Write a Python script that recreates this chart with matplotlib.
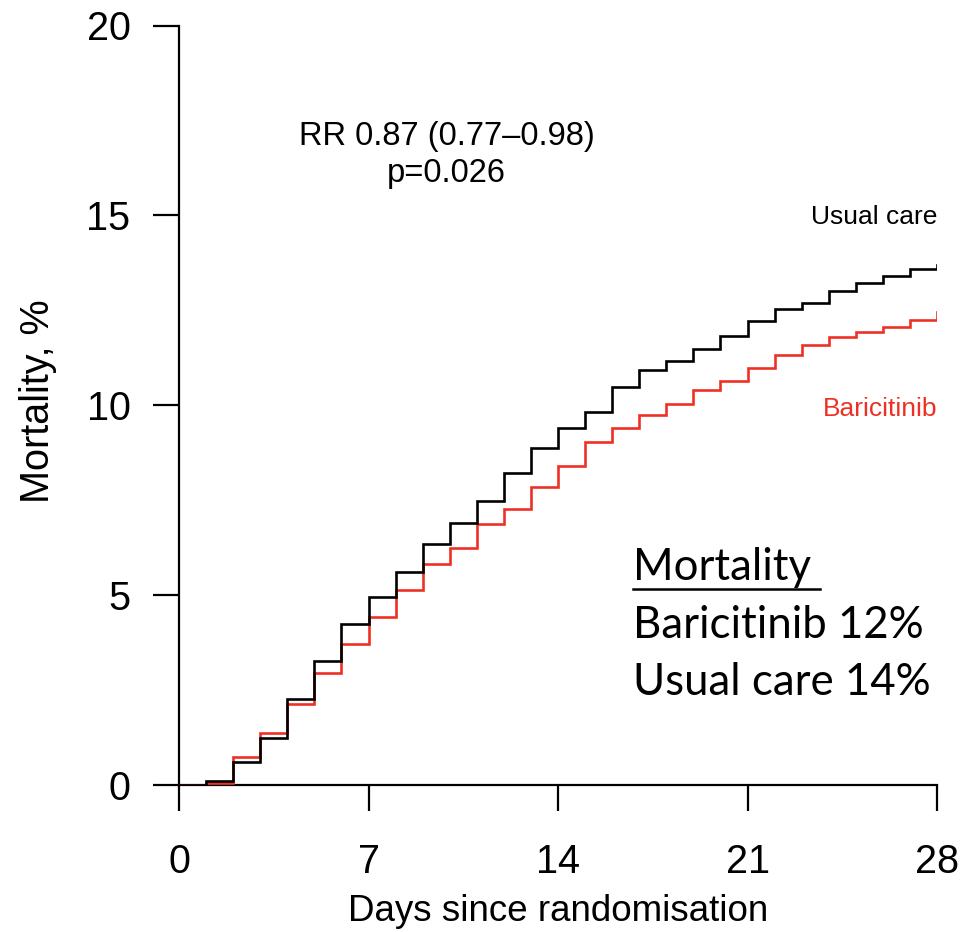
import matplotlib
matplotlib.use("Agg")
import matplotlib.pyplot as plt

# Cumulative 28-day mortality (%) at the start of each day
days = list(range(0, 29))
usual_care = [0.00, 0.10, 0.61, 1.23, 2.26, 3.26, 4.24, 4.96, 5.60, 6.35,
              6.89, 7.48, 8.22, 8.88, 9.39, 9.83, 10.47, 10.93, 11.17, 11.47,
              11.83, 12.22, 12.53, 12.68, 13.01, 13.21, 13.40, 13.59, 13.69]
baricitinib = [0.00, 0.05, 0.73, 1.36, 2.12, 2.96, 3.71, 4.43, 5.13, 5.83,
               6.23, 6.86, 7.28, 7.84, 8.40, 9.02, 9.39, 9.75, 10.02, 10.40,
               10.64, 10.99, 11.32, 11.58, 11.79, 11.94, 12.07, 12.24, 12.46]

x_ticks = [0, 7, 14, 21, 28]
y_ticks = [0, 5, 10, 15, 20]

RED = "#EE3024"
SANS = ["Liberation Sans", "DejaVu Sans"]

plt.rcParams["font.family"] = SANS

W, H, DPI = 961, 932, 100
fig = plt.figure(figsize=(W / DPI, H / DPI), dpi=DPI)
ax = fig.add_axes([179 / W, 1 - 785 / H, (937 - 179) / W, (785 - 25.5) / H])

ax.plot(days, baricitinib, drawstyle="steps-post", color=RED, lw=1.9,
        solid_joinstyle="miter", zorder=3)
ax.plot(days, usual_care, drawstyle="steps-post", color="black", lw=1.9,
        solid_joinstyle="miter", zorder=4)

ax.set_xlim(0, 28)
ax.set_ylim(0, 20)
ax.set_xticks(x_ticks)
ax.set_yticks(y_ticks)

for side in ("top", "right"):
    ax.spines[side].set_visible(False)
for side in ("left", "bottom"):
    ax.spines[side].set_linewidth(1.6)

ax.tick_params(axis="both", direction="out", length=19, width=1.6,
               labelsize=28.5, color="black")
ax.tick_params(axis="y", pad=16)
ax.tick_params(axis="x", pad=23)

ax.set_xlabel("Days since randomisation", fontsize=26.5, va="center")
ax.xaxis.set_label_coords(0.5, -0.167)
ax.set_ylabel("Mortality, %", fontsize=28.5, va="center")
ax.yaxis.set_label_coords(-0.186, 0.505)

ax.text(0.353, 0.830, "RR 0.87 (0.77\u20130.98)\np=0.026",
        transform=ax.transAxes, ha="center", va="center",
        fontsize=23.5, linespacing=1.25)

ax.text(1.0, 14.95, "Usual care", ha="right", va="center",
        fontsize=19, color="black", transform=ax.get_yaxis_transform())
ax.text(1.0, 9.9, "Baricitinib", ha="right", va="center",
        fontsize=19, color=RED, transform=ax.get_yaxis_transform())

# Summary box text
summary_font = ["Lato", "DejaVu Sans"]
fig.text(633 / W, 1 - 580 / H, "Mortality", fontsize=31.5, family=summary_font,
         ha="left", va="baseline")
fig.add_artist(plt.Line2D([633 / W, 820 / W], [1 - 588.5 / H, 1 - 588.5 / H],
                          color="black", lw=1.8))
fig.text(633 / W, 1 - 638 / H, "Baricitinib 12%", fontsize=31.5,
         family=summary_font, ha="left", va="baseline")
fig.text(633 / W, 1 - 695 / H, "Usual care 14%", fontsize=31.5,
         family=summary_font, ha="left", va="baseline")

fig.savefig("out.png", dpi=DPI)
